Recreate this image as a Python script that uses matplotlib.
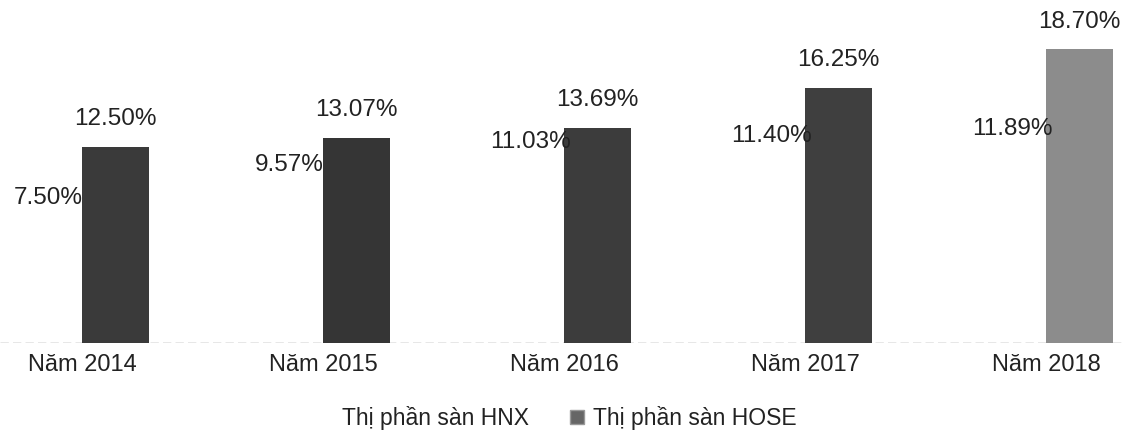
import matplotlib
matplotlib.use('Agg')
import matplotlib.pyplot as plt
import matplotlib.patches as mpatches
import numpy as np

plt.rcParams['font.family'] = ['Liberation Sans', 'DejaVu Sans']

# Daten
nam = ['Năm 2014', 'Năm 2015', 'Năm 2016', 'Năm 2017', 'Năm 2018']
hnx = [7.50, 9.57, 11.03, 11.40, 11.89]
hose = [12.50, 13.07, 13.69, 16.25, 18.70]
ten_hnx = 'Thị phần sàn HNX'
ten_hose = 'Thị phần sàn HOSE'

mau_hose = ['#3a3a3a', '#353535', '#3c3c3c', '#3f3f3f', '#8c8c8c']

fig = plt.figure(figsize=(11.23, 4.34), dpi=100)
ax = fig.add_axes([0, 91 / 434, 1, 343 / 434])

x = np.arange(len(nam))
w = 0.278
# HNX-Balken sind im Original unsichtbar (weiss)
b1 = ax.bar(x - w / 2, hnx, w, color='none', label=ten_hnx)
b2 = ax.bar(x + w / 2, hose, w, color=mau_hose, label=ten_hose, zorder=2)

for b, v in zip(b1, hnx):
    ax.annotate(f'{v:.2f}%', (b.get_x() + b.get_width() / 2, v), xytext=(0, 12),
                textcoords='offset points', ha='center', va='bottom', fontsize=17.5, color='#222222')
for b, v in zip(b2, hose):
    ax.annotate(f'{v:.2f}%', (b.get_x() + b.get_width() / 2, v), xytext=(0, 12),
                textcoords='offset points', ha='center', va='bottom', fontsize=17.5, color='#222222')

ax.set_xlim(-82 / 241, (1123 - 82) / 241)
ax.set_ylim(0, 343 / 15.7)
ax.set_xticks(x)
ax.set_xticklabels(nam, fontsize=17, color='#222222')
ax.tick_params(axis='x', length=0, pad=8)
ax.set_yticks([])
for s in ['top', 'right', 'left', 'bottom']:
    ax.spines[s].set_visible(False)
ax.axhline(0, color='#888888', lw=1, ls=(0, (6, 3)), zorder=1)

h1 = mpatches.Patch(facecolor='none', edgecolor='none')
h2 = mpatches.Patch(facecolor='#666666', edgecolor='#999999')
fig.legend([h1, h2], [ten_hnx, ten_hose], loc='center', bbox_to_anchor=(0.497, 0.037),
           ncol=2, frameon=False, fontsize=16.5, handlelength=0.6, handleheight=0.6,
           handletextpad=0.4, columnspacing=1.8, labelcolor='#222222')

fig.savefig('out.png', dpi=100)
